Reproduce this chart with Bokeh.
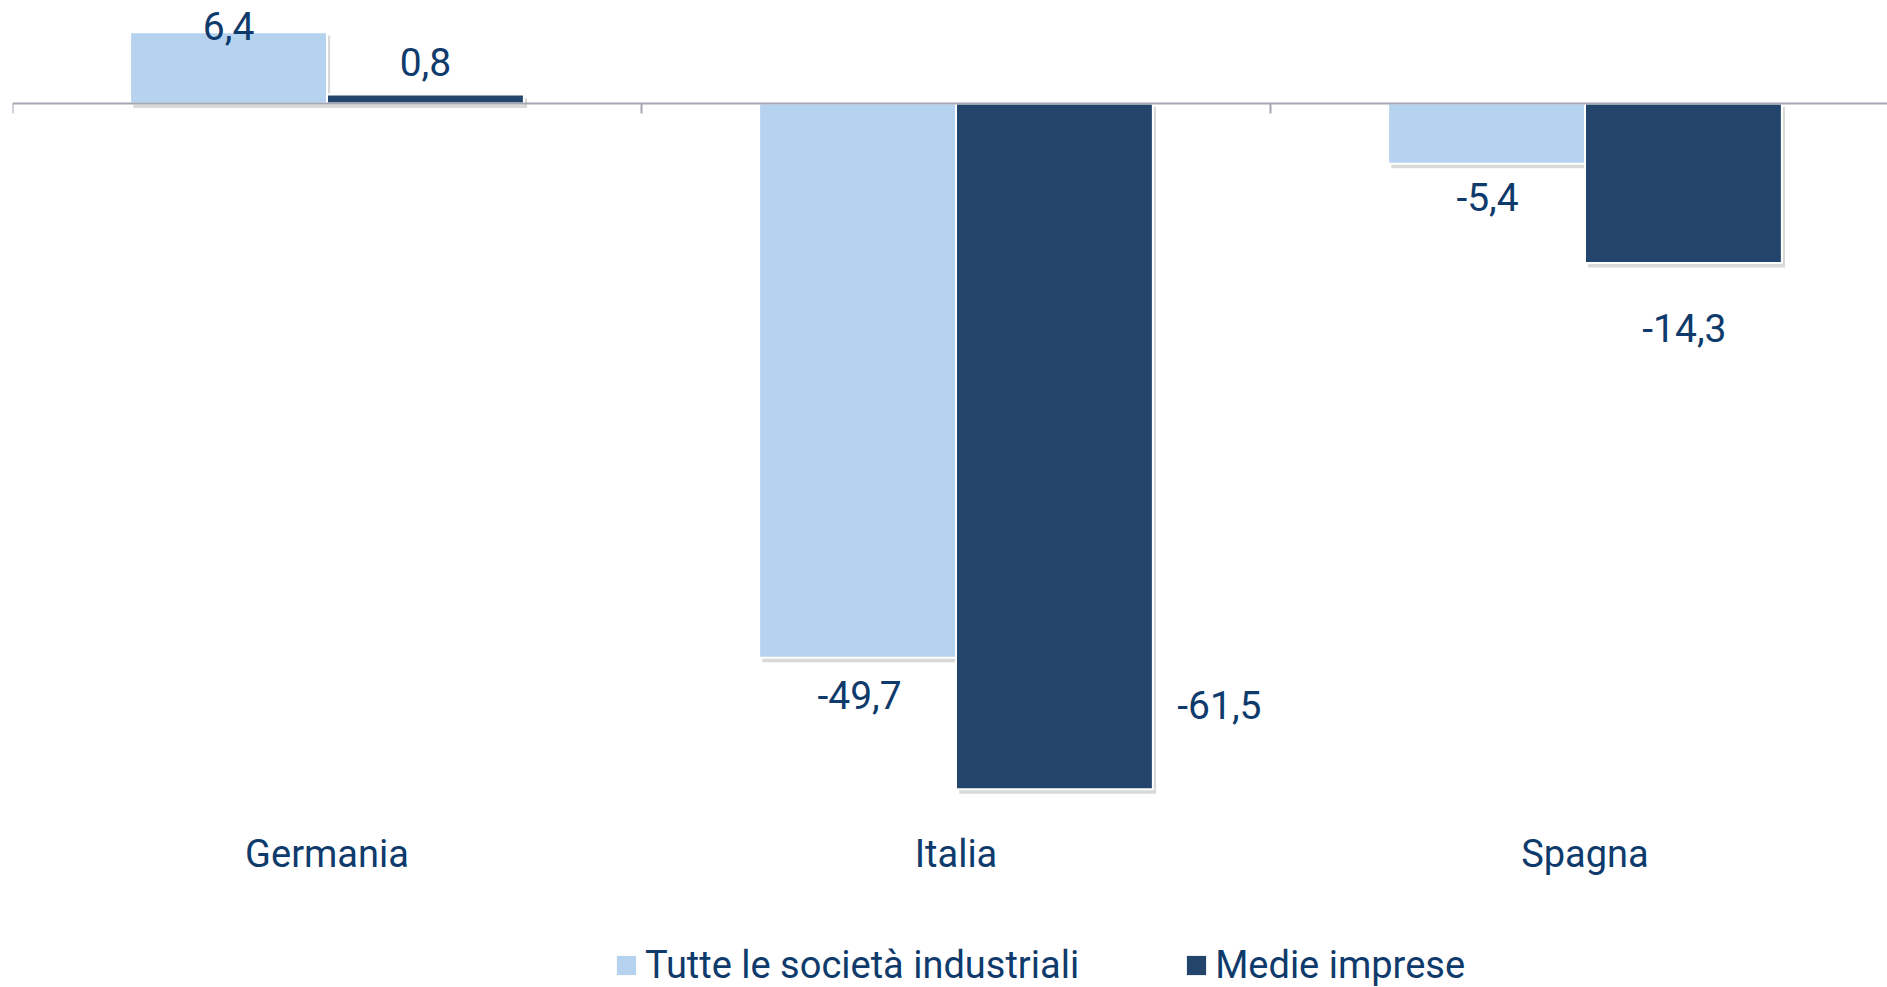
import numpy as np
from bokeh.plotting import figure
from bokeh.layouts import column
from bokeh.models import ColumnDataSource, Range1d, FixedTicker, Span, Legend, LegendItem
from bokeh.transform import dodge
from bokeh.core.properties import value
from bokeh.embed import file_html
from bokeh.resources import INLINE

# ---- data ----
categories = ["Germania", "Italia", "Spagna"]
series_names = ["Tutte le società industriali", "Medie imprese"]
tutte = [6.4, -49.7, -5.4]
medie = [0.8, -61.5, -14.3]

# label nudges in screen px (dx right, dy down), as placed in the original
tutte_dx = [0, 2, 1]
tutte_dy = [-6, 37, 33]
medie_dx = [0, 165, 1]
medie_dy = [-33, -84, 65]

# ---- style ----
LIGHT = "#b5d2ee"
DARK = "#23456b"
NAVY = "#0f3b6c"
AXIS = "#a3a7b4"
FONT = "Roboto"

n = len(categories)
centers = [i + 0.5 for i in range(n)]
bounds = list(range(n + 1))
bar_w = 0.313
half = bar_w / 2

def fmt(v):
    return f"{v:.1f}".replace(".", ",")

src = ColumnDataSource(dict(
    x=centers,
    tutte=tutte, medie=medie,
    tutte_lbl=[fmt(v) for v in tutte], medie_lbl=[fmt(v) for v in medie],
    tutte_dx=tutte_dx, tutte_dy=tutte_dy, medie_dx=medie_dx, medie_dy=medie_dy,
    tutte_sh_top=[max(v, 0) - 0.3 for v in tutte], tutte_sh_bot=[min(v, 0) - 0.4 for v in tutte],
    medie_sh_top=[max(v, 0) - 0.3 for v in medie], medie_sh_bot=[min(v, 0) - 0.4 for v in medie],
))

p = figure(width=1887, height=905,
           x_range=Range1d(0, 1875 / 629), y_range=Range1d(-64.3, 9.24),
           output_backend="svg", toolbar_location=None, y_axis_location=None,
           min_border_left=12, min_border_right=0, min_border_top=0, min_border_bottom=85)
p.outline_line_color = None
p.xgrid.visible = False
p.ygrid.visible = False

# x axis: category names only
p.xaxis.ticker = FixedTicker(ticks=centers)
p.xaxis.major_label_overrides = {c: name for c, name in zip(centers, categories)}
p.xaxis.axis_line_color = None
p.xaxis.major_tick_line_color = None
p.xaxis.minor_tick_line_color = None
p.xaxis.major_tick_out = 0
p.xaxis.major_tick_in = 0
p.xaxis.major_label_standoff = 11
p.xaxis.major_label_text_font = FONT
p.xaxis.major_label_text_font_size = "38px"
p.xaxis.major_label_text_color = NAVY

# shadows
p.vbar(x=dodge("x", -half + 0.005), top="tutte_sh_top", bottom="tutte_sh_bot", width=bar_w,
       source=src, fill_color="black", fill_alpha=0.15, line_color=None)
p.vbar(x=dodge("x", half + 0.005), top="medie_sh_top", bottom="medie_sh_bot", width=bar_w,
       source=src, fill_color="black", fill_alpha=0.15, line_color=None)

# bars
p.vbar(x=dodge("x", -half), top="tutte", bottom=0, width=bar_w, source=src,
       fill_color=LIGHT, line_color="white", line_width=2)
p.vbar(x=dodge("x", half), top="medie", bottom=0, width=bar_w, source=src,
       fill_color=DARK, line_color="white", line_width=2)

# zero line with category boundary ticks
p.add_layout(Span(location=0, dimension="width", line_color=AXIS, line_width=2))
p.segment(x0=bounds, x1=bounds, y0=[0] * len(bounds), y1=[-0.9] * len(bounds),
          line_color=AXIS, line_width=2)

# value labels
p.text(x=dodge("x", -half), y="tutte", text="tutte_lbl", x_offset="tutte_dx", y_offset="tutte_dy",
       source=src, text_align="center", text_baseline="middle",
       text_font=value(FONT), text_font_size="39px", text_color=NAVY)
p.text(x=dodge("x", half), y="medie", text="medie_lbl", x_offset="medie_dx", y_offset="medie_dy",
       source=src, text_align="center", text_baseline="middle",
       text_font=value(FONT), text_font_size="39px", text_color=NAVY)

# ---- legend strip ----
p2 = figure(width=1887, height=82, x_range=Range1d(0, 1), y_range=Range1d(0, 1),
            output_backend="svg", toolbar_location=None,
            x_axis_location=None, y_axis_location=None, min_border=0)
p2.outline_line_color = None
p2.xgrid.visible = False
p2.ygrid.visible = False
# swatch renderers (kept outside the visible range; only their legend glyphs show)
k1 = p2.vbar(x=[5], top=[0.5], width=0.1, fill_color=LIGHT, line_color=None)
k2 = p2.vbar(x=[5], top=[0.5], width=0.1, fill_color=DARK, line_color=None)

legend = Legend(items=[LegendItem(label=series_names[0], renderers=[k1]),
                       LegendItem(label=series_names[1], renderers=[k2])],
                orientation="horizontal", location=(602, 0),
                glyph_width=24, glyph_height=24, label_standoff=7, spacing=105,
                padding=0, margin=0, border_line_color=None, background_fill_alpha=0,
                label_text_font=FONT, label_text_font_size="38px", label_text_color=NAVY)
p2.add_layout(legend)

open("out.html", "w").write(file_html(column(p, p2, spacing=0), INLINE))
